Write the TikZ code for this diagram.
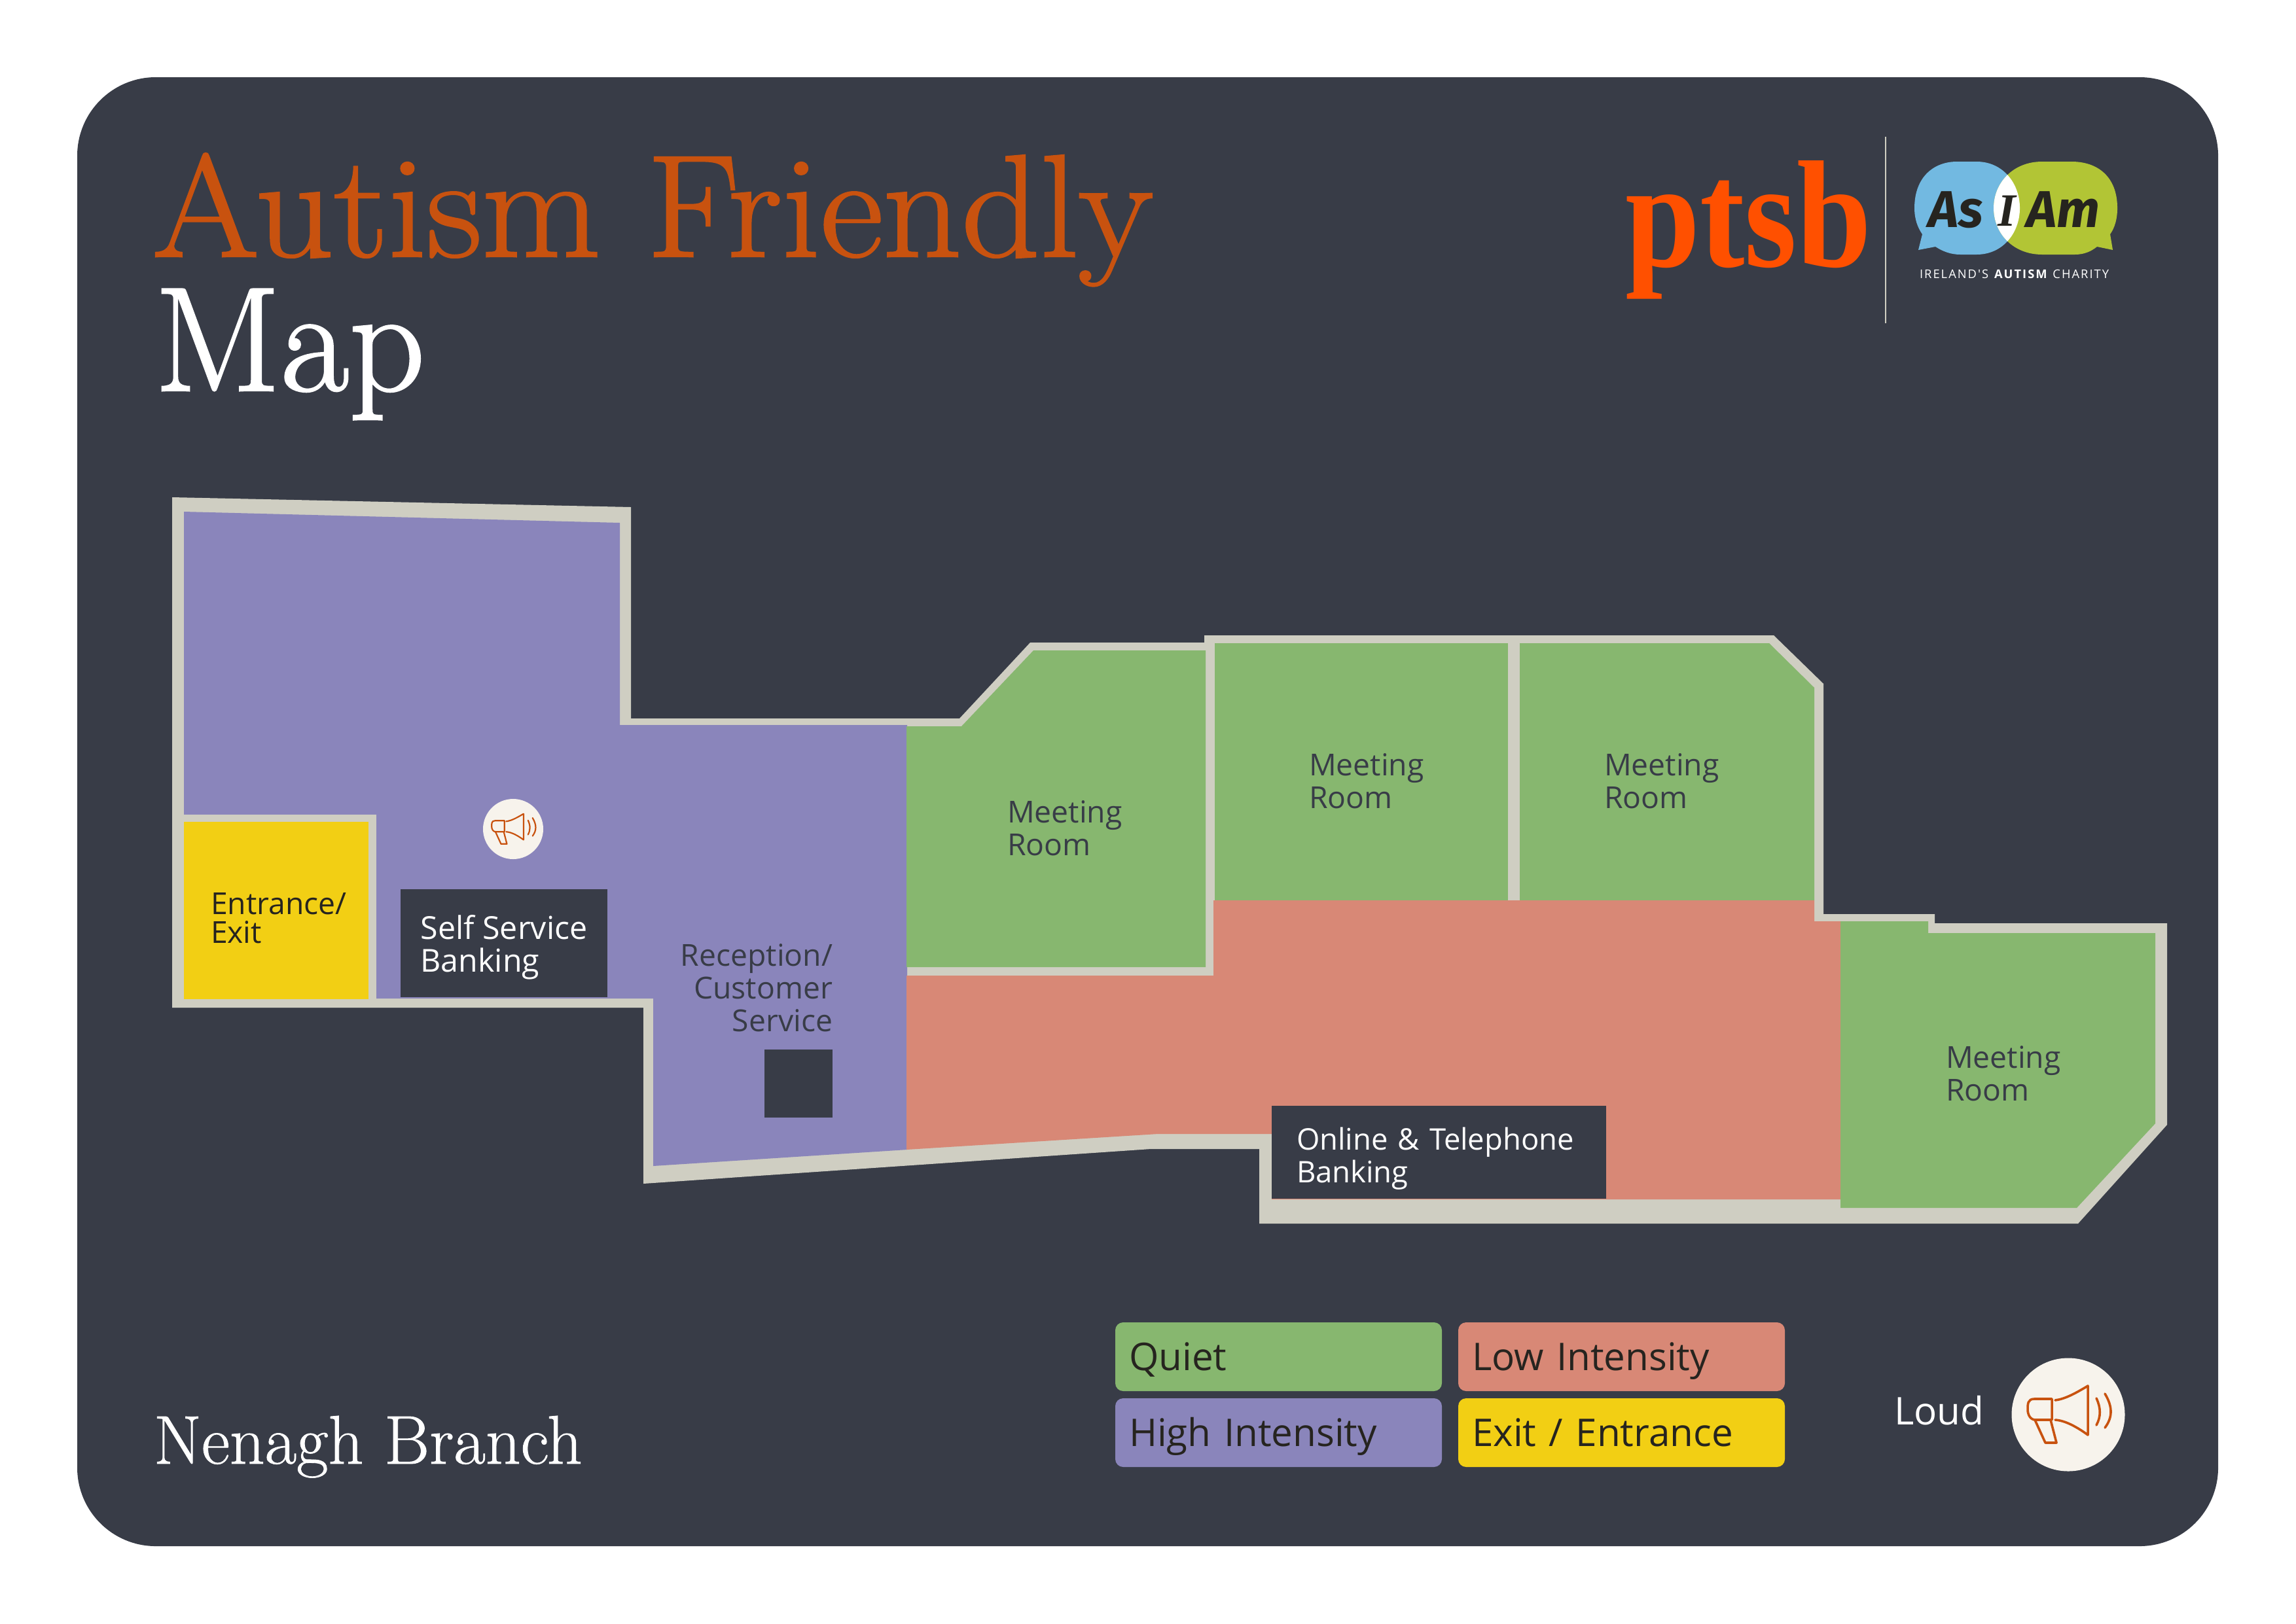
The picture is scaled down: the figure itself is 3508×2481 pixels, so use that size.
\documentclass[tikz,border=0pt]{standalone}
\usepackage{fontspec}
\newfontfamily\interfont{Open Sans}
\newfontfamily\smallfont[LetterSpace=11]{Open Sans}
\newfontfamily\ptsbfont{Liberation Serif}
\newfontfamily\brushfont{Fira Sans}
\newfontfamily\iglyphfont{Liberation Serif}
\newfontfamily\titlefont[FakeBold=1.3]{Latin Modern Roman}
\newfontfamily\branchfont[FakeBold=.8]{Latin Modern Roman}
\newdimen\pxu \pxu=.24pt
\definecolor{panel}{HTML}{383C47}
\definecolor{wall}{HTML}{CFCEC2}
\definecolor{purplezone}{HTML}{8A85BB}
\definecolor{greenzone}{HTML}{87B76F}
\definecolor{coralzone}{HTML}{D88876}
\definecolor{yellowzone}{HTML}{F2CF14}
\definecolor{orangetitle}{HTML}{C8520F}
\definecolor{cream}{HTML}{F7F3EC}
\definecolor{ptsborange}{HTML}{FF5000}
\definecolor{asblue}{HTML}{72B9E1}
\definecolor{aslime}{HTML}{B2C535}
\definecolor{inkdark}{HTML}{26241F}
\tikzset{
  x=.24pt,y=-.24pt,
  plain/.style={inner sep=0,outer sep=0},
  roomlabel/.style={plain,anchor=north west,align=left,text=panel,font=\interfont\fontsize{11.1pt}{12pt}\selectfont},
  legendbox/.style={plain,rounded corners=12\pxu,minimum width=499\pxu,inner xsep=21\pxu,text width=457\pxu,
    text height=73\pxu,text depth=32\pxu,align=left,text=inkdark,font=\interfont\fontsize{14pt}{16pt}\selectfont},
  darkbox/.style={plain,fill=panel,align=left,text=white},
  loudcircle/.style={plain,circle,fill=cream},
  pics/megaphone/.style={code={
    \draw[orangetitle,line join=round,line cap=round]
      (-20,-22) .. controls (-5,-24) and (10,-32) .. (30,-44) -- (30,31) .. controls (12,18) and (-5,9) .. (-20,8);
    \draw[orangetitle,line join=round,line cap=round]
      (-25,-24) -- (-52,-24) .. controls (-62,-24) and (-62,-16) .. (-62,-8) .. controls (-62,0) and (-58,8) .. (-50,8) -- (-25,8) -- cycle;
    \draw[orangetitle,line join=round] (-51,8) -- (-35,43) -- (-18,43) -- (-27,8);
    \draw[orangetitle,line cap=round] (43,-25) .. controls (50,-10) and (50,3) .. (43,16);
    \draw[orangetitle,line cap=round] (56,-32) .. controls (68,-12) and (68,4) .. (56,20);
  }},
}
\begin{document}
\begin{tikzpicture}
\useasboundingbox (0,0) rectangle (3508,2481);
\fill[white] (0,0) rectangle (3508,2481);
\fill[panel,rounded corners=120\pxu] (118,118) rectangle (3389,2363);

% outer wall
\fill[wall] (263,760) -- (964,775) -- (964,1098) -- (1466,1098) -- (1574,982) -- (1840,982) -- (1840,971) -- (2710,971)
  -- (2786,1045) -- (2786,1397) -- (2956,1397) -- (2956,1411) -- (3311,1411) -- (3311,1719) -- (3175,1870)
  -- (1924,1870) -- (1924,1756) -- (1758,1756) -- (983,1809) -- (983,1540) -- (263,1540) -- cycle;

% zones
\fill[purplezone] (281,782) -- (947,799) -- (947,1108) -- (1386,1108) -- (1386,1757) -- (998,1782) -- (998,1526) -- (281,1526) -- cycle;
\fill[wall] (263,1245) -- (575,1245) -- (575,1540) -- (263,1540) -- cycle;
\fill[yellowzone] (281,1256) rectangle (563,1527);
\fill[greenzone] (1385,1110) -- (1469,1110) -- (1579,994) -- (1842,994) -- (1842,1478) -- (1385,1478) -- cycle;
\fill[greenzone] (1856,983) rectangle (2304,1376);
\fill[greenzone] (2322,983) -- (2703,983) -- (2772,1051) -- (2772,1376) -- (2322,1376) -- cycle;
\fill[coralzone] (1385,1491) -- (1854,1491) -- (1854,1376) -- (2772,1376) -- (2772,1408) -- (2812,1408) -- (2812,1833)
  -- (1943,1833) -- (1943,1733) -- (1769,1733) -- (1385,1757) -- cycle;
\fill[greenzone] (2812,1408) -- (2946,1408) -- (2946,1426) -- (3293,1426) -- (3293,1717) -- (3173,1846) -- (2812,1846) -- cycle;

% dark boxes
\node[darkbox,anchor=north west,minimum width=316\pxu,minimum height=165\pxu,inner xsep=0pt,inner ysep=0pt,
  font=\interfont\fontsize{11.6pt}{12pt}\selectfont] (selfservice) at (612,1359) {\rule{0pt}{50\pxu}Self Service\\Banking};
\fill[panel] (1168,1604) rectangle (1272,1708);
\node[darkbox,anchor=north west,minimum width=511\pxu,minimum height=142\pxu,text width=435\pxu,inner xsep=38\pxu,inner ysep=0pt,
  font=\interfont\fontsize{10.9pt}{12pt}\selectfont] (online) at (1943,1690) {\rule{0pt}{53\pxu}Online \& Telephone\\Banking};

% room labels
\node[roomlabel,text=inkdark,font=\interfont\fontsize{11.1pt}{10.6pt}\selectfont] (entrance) at (322,1364) {Entrance/\\Exit};
\node[roomlabel,anchor=north east,align=right] (reception) at (1272,1443) {Reception/\\Customer\\Service};
\node[roomlabel] (room1) at (1539,1224) {Meeting\\Room};
\node[roomlabel] (room2) at (2000,1152) {Meeting\\Room};
\node[roomlabel] (room3) at (2451,1152) {Meeting\\Room};
\node[roomlabel] (room4) at (2973,1599) {Meeting\\Room};

% small loud icon
\node[loudcircle,minimum size=92\pxu] (loudsmall) at (784,1267) {};
\pic[scale=.53,line width=2.2\pxu] at (loudsmall.center) {megaphone};

% titles
\node[plain,anchor=base west,text=orangetitle,font=\titlefont\fontsize{53.5pt}{60pt}\selectfont] (title1) at (233,392) {\scalebox{1.054}[1]{Autism Friendly}};
\node[plain,anchor=base west,text=white,font=\titlefont\fontsize{54.5pt}{60pt}\selectfont] (title2) at (236,597) {Map};
\node[plain,anchor=base west,text=white,font=\branchfont\fontsize{25.3pt}{28pt}\selectfont] (branch) at (235,2237) {Nenagh Branch};

% legend
\node[legendbox,fill=greenzone,anchor=north west] (quiet) at (1704,2021) {Quiet};
\node[legendbox,fill=coralzone,anchor=north west] (low) at (2228,2021) {Low Intensity};
\node[legendbox,fill=purplezone,anchor=north west] (high) at (1704,2137) {High Intensity};
\node[legendbox,fill=yellowzone,anchor=north west] (exit) at (2228,2137) {Exit / Entrance};
\node[plain,anchor=base west,text=white,font=\interfont\fontsize{14pt}{16pt}\selectfont] (loud) at (2894,2177) {Loud};
\node[loudcircle,minimum size=173\pxu] (loudbig) at (3160,2162) {};
\pic[line width=3.6\pxu] at (loudbig.center) {megaphone};

% logos
\node[plain,anchor=base west,text=ptsborange,font=\ptsbfont\bfseries\fontsize{56pt}{60pt}\selectfont] (ptsb) at (2483,407) {\scalebox{.88}[1]{ptsb}};
\draw[wall,line width=2\pxu] (2881,209) -- (2881,494);

\def\bluebubble{(2925,318) .. controls (2925,270) and (2955,247) .. (2990,247) -- (3020,247) .. controls (3060,247) and (3086,280) .. (3086,318)
   .. controls (3086,356) and (3060,389) .. (3020,389) -- (2995,389) .. controls (2980,389) and (2968,384) .. (2957,377) -- (2931,382) -- (2937,358) .. controls (2930,348) and (2925,335) .. (2925,318) -- cycle}
\def\limebubble{(3235,318) .. controls (3235,270) and (3205,247) .. (3165,247) -- (3120,247) .. controls (3075,247) and (3046,280) .. (3046,318)
   .. controls (3046,356) and (3075,389) .. (3120,389) -- (3170,389) .. controls (3185,389) and (3195,384) .. (3204,377) -- (3228,382) -- (3224,358) .. controls (3231,348) and (3235,335) .. (3235,318) -- cycle}
\fill[asblue] \bluebubble;
\fill[aslime] \limebubble;
\begin{scope}
  \clip \bluebubble;
  \fill[white] \limebubble;
\end{scope}
\node[plain,anchor=base,text=inkdark,font=\brushfont\bfseries\itshape\fontsize{19pt}{20pt}\selectfont] (as) at (2988,347) {As};
\node[plain,anchor=base,text=inkdark,font=\iglyphfont\bfseries\itshape\fontsize{17pt}{20pt}\selectfont] (i) at (3066,345) {I};
\node[plain,anchor=base,text=inkdark,font=\brushfont\bfseries\itshape\fontsize{19pt}{20pt}\selectfont] (am) at (3152,347) {Am};
\node[plain,anchor=base west,text=white,font=\smallfont\fontsize{4.4pt}{5pt}\selectfont] (charity) at (2933,425) {IRELAND'S \textbf{AUTISM} CHARITY};
\end{tikzpicture}
\end{document}
